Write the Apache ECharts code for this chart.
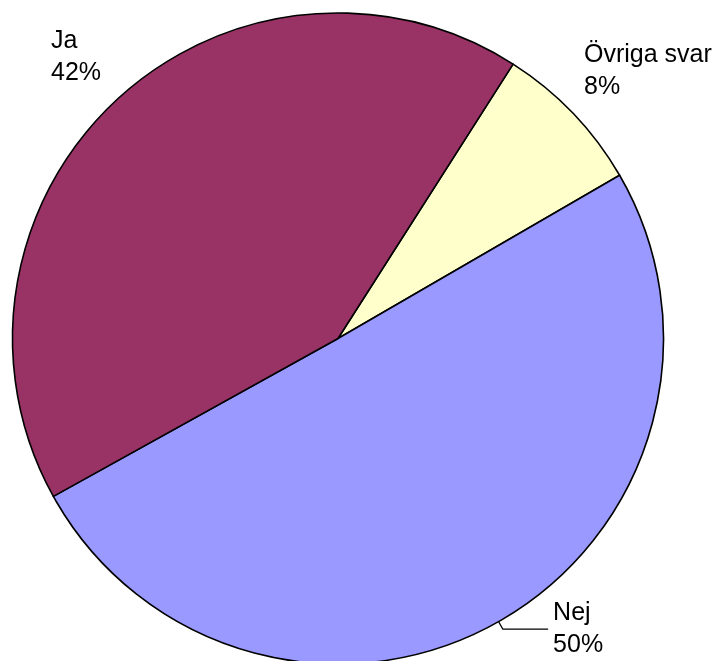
<!DOCTYPE html>
<html>
<head>
<meta charset="utf-8">
<script src="https://cdn.jsdelivr.net/npm/echarts@6/dist/echarts.min.js"></script>
<style>
html,body{margin:0;padding:0;background:#fff;}
#c{width:718px;height:661px;}
</style>
</head>
<body>
<div id="c"></div>
<script>
// Data (clockwise from the top-right boundary)
const categories = ['Övriga svar', 'Nej', 'Ja'];
const values = [7.6, 50.3, 42.1];

// Styling (kept separate from the data)
const colors = ['#FFFFCC', '#9999FF', '#993366'];
const labelSettings = [
  { alignTo: 'edge', edgeDistance: 2, length: 61.4, length2: 0, showLine: false },
  { alignTo: 'none', edgeDistance: 0, length: 8.6, length2: 45.3, showLine: true },
  { alignTo: 'edge', edgeDistance: 51, length: 60.4, length2: 0, showLine: false }
];

const chart = echarts.init(document.getElementById('c'), null, { renderer: 'canvas' });

const seriesData = categories.map((name, i) => ({
  name: name,
  value: values[i],
  itemStyle: { color: colors[i] },
  label: {
    alignTo: labelSettings[i].alignTo,
    edgeDistance: labelSettings[i].edgeDistance
  },
  labelLine: {
    show: labelSettings[i].showLine,
    length: labelSettings[i].length,
    length2: labelSettings[i].length2
  }
}));

chart.setOption({
  backgroundColor: '#ffffff',
  animation: false,
  series: [{
    type: 'pie',
    center: [338, 338.5],
    radius: 325.5,
    startAngle: 57.46,
    clockwise: true,
    avoidLabelOverlap: false,
    silent: true,
    itemStyle: { borderColor: '#000000', borderWidth: 1.6 },
    label: {
      show: true,
      position: 'outside',
      distanceToLabelLine: 5,
      color: '#000000',
      fontFamily: 'Liberation Sans, Arial, sans-serif',
      fontSize: 25,
      lineHeight: 32,
      formatter: function (p) {
        return '{t|' + p.name + '}\n{t|' + Math.round(p.percent) + '%}';
      },
      rich: {
        t: {
          width: 132,
          align: 'left',
          color: '#000000',
          fontFamily: 'Liberation Sans, Arial, sans-serif',
          fontSize: 25,
          lineHeight: 32
        }
      }
    },
    labelLine: {
      lineStyle: { color: '#000000', width: 1.2 },
      smooth: false
    },
    emphasis: { disabled: true },
    data: seriesData
  }]
});
</script>
</body>
</html>
